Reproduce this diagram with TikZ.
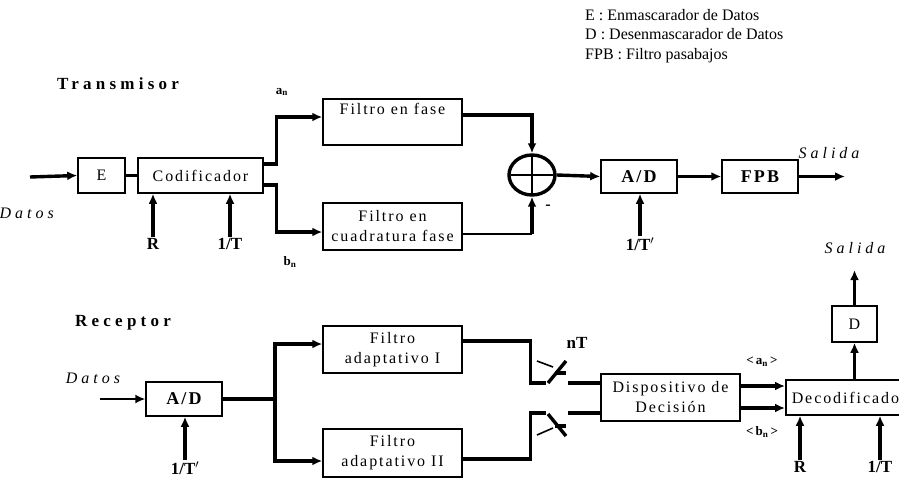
\documentclass[tikz,border=0pt]{standalone}
\usepackage{fontspec}
\setmainfont{Liberation Serif}
\newfontfamily\boxfont[LetterSpace=12]{Liberation Serif}
\newfontfamily\widefont[LetterSpace=25]{Liberation Serif}
\usetikzlibrary{arrows.meta,shapes.geometric}

\begin{document}
\begin{tikzpicture}[x=1pt,y=-1pt,
    >={Latex[length=10pt,width=9pt]},
    blk/.style={rectangle,draw=black,line width=1.5pt,inner sep=2pt,align=center,
        font=\boxfont\fontsize{16}{20}\selectfont},
    bblk/.style={blk,font=\boxfont\bfseries\fontsize{18}{20}\selectfont},
    wire/.style={line width=3.4pt},
    thinwire/.style={line width=1.6pt},
    lbl/.style={font=\bfseries\fontsize{17}{20}\selectfont,inner sep=1pt},
    sig/.style={font=\widefont\itshape\fontsize{16}{20}\selectfont,inner sep=1pt},
    title/.style={font=\widefont\bfseries\fontsize{17}{20}\selectfont},
    sub/.style={font=\bfseries\fontsize{13}{14}\selectfont,inner sep=1pt},
]
    \useasboundingbox (0,0) rectangle (899,479);
    \clip (0,0) rectangle (899,479);

    % legend
    \node[anchor=north west,align=left,inner sep=0pt,font=\fontsize{16}{19.5}\selectfont]
        (legend) at (585,9) {E : Enmascarador de Datos\\D : Desenmascarador de Datos\\FPB : Filtro pasabajos};

    % ---- transmisor ----
    \node[title] (tx) at (118,84) {Transmisor};
    \node[blk,minimum width=47pt,minimum height=35pt] (E) at (101.5,175.5) {E};
    \node[blk,minimum width=125pt,minimum height=35pt] (cod) at (200.5,175.5) {Codificador};
    \node[blk,minimum width=139pt,minimum height=46pt] (ff) at (392.5,122) {Filtro en fase\\ \strut};
    \node[blk,minimum width=139pt,minimum height=47pt] (fc) at (392.5,226.5) {Filtro en\\cuadratura fase};
    \node[ellipse,draw=black,line width=3.4pt,minimum width=46pt,minimum height=40pt] (sum) at (532,175) {};
    \node[bblk,minimum width=76pt,minimum height=33pt] (ad1) at (639,176.5) {A/D};
    \node[bblk,minimum width=76pt,minimum height=33pt] (fpb) at (760,176.5) {FPB};

    \node[sig,anchor=east] (din) at (55,213) {Datos};
    \node[lbl] (r1) at (153,244) {R};
    \node[lbl] (t1) at (230,244) {1/T};
    \node[lbl] (t1b) at (640,244) {1/T$'$};
    \node[sub] (an) at (282,92) {a\textsubscript{n}};
    \node[sub] (bn) at (290,262) {b\textsubscript{n}};
    \node[sub,font=\bfseries\fontsize{16}{16}\selectfont] (minus) at (548,207) {-};
    \node[sig] (out1) at (829,153) {Salida};
    \coordinate (in1) at (30,177);
    \coordinate (o1) at (845,176.5);
    \coordinate (c1) at (532,234);

    \draw[wire,->] (in1) -- (E.west);
    \draw[wire] (E.east) -- (cod.west);
    \draw[wire,->] (r1.north) -- (r1.north |- cod.south);
    \draw[wire,->] (t1.north) -- (t1.north |- cod.south);
    \draw[wire,->] ([yshift=11.5pt]cod.east) -- ++(13,0) |- ([yshift=5pt]ff.west);
    \draw[wire,->] ([yshift=-9.5pt]cod.east) -- ++(13,0) |- ([yshift=-5.5pt]fc.west);
    \draw[wire,->] ([yshift=7pt]ff.east) -| (sum.north);
    \draw[thinwire] ([yshift=-7.5pt]fc.east) -- (c1);
    \draw[wire,->] (c1) -- (sum.south);
    \draw[thinwire,shorten <=4pt,shorten >=4pt] (sum.west) -- (sum.east);
    \draw[thinwire,shorten <=3pt,shorten >=3pt] (sum.north) -- (sum.south);
    \draw[wire,->] (sum.east) -- (ad1.west);
    \draw[wire,->] (t1b.north) -- (t1b.north |- ad1.south);
    \draw[wire,->] (ad1.east) -- (fpb.west);
    \draw[wire,->] (fpb.east) -- (o1);

    % ---- receptor ----
    \node[title] (rx) at (123,323) {Receptor};
    \node[bblk,minimum width=76pt,minimum height=34pt] (ad2) at (184,399) {A/D};
    \node[blk,minimum width=139pt,minimum height=47pt] (fa1) at (392.5,349.5) {Filtro\\adaptativo I};
    \node[blk,minimum width=139pt,minimum height=48pt] (fa2) at (392.5,453) {Filtro\\adaptativo II};
    \node[blk,minimum width=139pt,minimum height=47pt] (disp) at (670.5,397.5) {Dispositivo de\\Decisión};
    \node[blk,anchor=west,inner xsep=6pt,minimum height=35pt] (deco) at (785,397.5) {Decodificador};
    \node[blk,minimum width=45pt,minimum height=36pt] (D) at (854.5,324) {D};

    \node[sig] (din2) at (93,378) {Datos};
    \node[lbl] (t2) at (185,468) {1/T$'$};
    \node[lbl] (nT) at (577,343) {nT};
    \node[sub] (ean) at (762,362) {<\,a\textsubscript{n}\,>};
    \node[sub] (ebn) at (762,432) {<\,b\textsubscript{n}\,>};
    \node[lbl] (r2) at (800,467) {R};
    \node[lbl] (t3) at (880,467) {1/T};
    \node[sig] (out2) at (855,248) {Salida};
    \coordinate (in2) at (100,399);
    \coordinate (split) at (275,399);
    \coordinate (sw1a) at (546,383);
    \coordinate (sw1b) at (568,383);
    \coordinate (sw2a) at (546,413);
    \coordinate (sw2b) at (568,413);
    \coordinate (o2) at (854.5,270);

    \draw[thinwire,->] (in2) -- (ad2.west);
    \draw[wire,->] (t2.north) -- (t2.north |- ad2.south);
    \draw[wire] (ad2.east) -- (split);
    \draw[wire,<->] ([yshift=5.5pt]fa1.west) -| (split) |- ([yshift=-8pt]fa2.west);
    \draw[wire] ([yshift=8.5pt]fa1.east) -- ++(68,0) |- (sw1a);
    \draw[wire] ([yshift=-6pt]fa2.east) -- ++(68,0) |- (sw2a);
    % muestreadores
    \draw[wire] (548,383) -- (566,361);
    \draw[wire] (555,373) -- (566,373);
    \draw[thinwire] (537,361) -- (553,367);
    \draw[wire] (548,414) -- (566,436);
    \draw[wire] (555,426) -- (566,426);
    \draw[thinwire] (537,435) -- (553,428);
    \draw[wire] (sw1b) -- (sw1b -| disp.west);
    \draw[wire] (sw2b) -- (sw2b -| disp.west);
    \draw[wire,->] ([yshift=11.5pt]disp.east) -- ([yshift=11.5pt]disp.east -| deco.west);
    \draw[wire,->] ([yshift=-10.5pt]disp.east) -- ([yshift=-10.5pt]disp.east -| deco.west);
    \draw[wire,->] (r2.north) -- (r2.north |- deco.south);
    \draw[wire,->] (t3.north) -- (t3.north |- deco.south);
    \draw[wire,->] (D.south |- deco.north) -- (D.south);
    \draw[wire,->] (D.north) -- (o2);
\end{tikzpicture}
\end{document}
